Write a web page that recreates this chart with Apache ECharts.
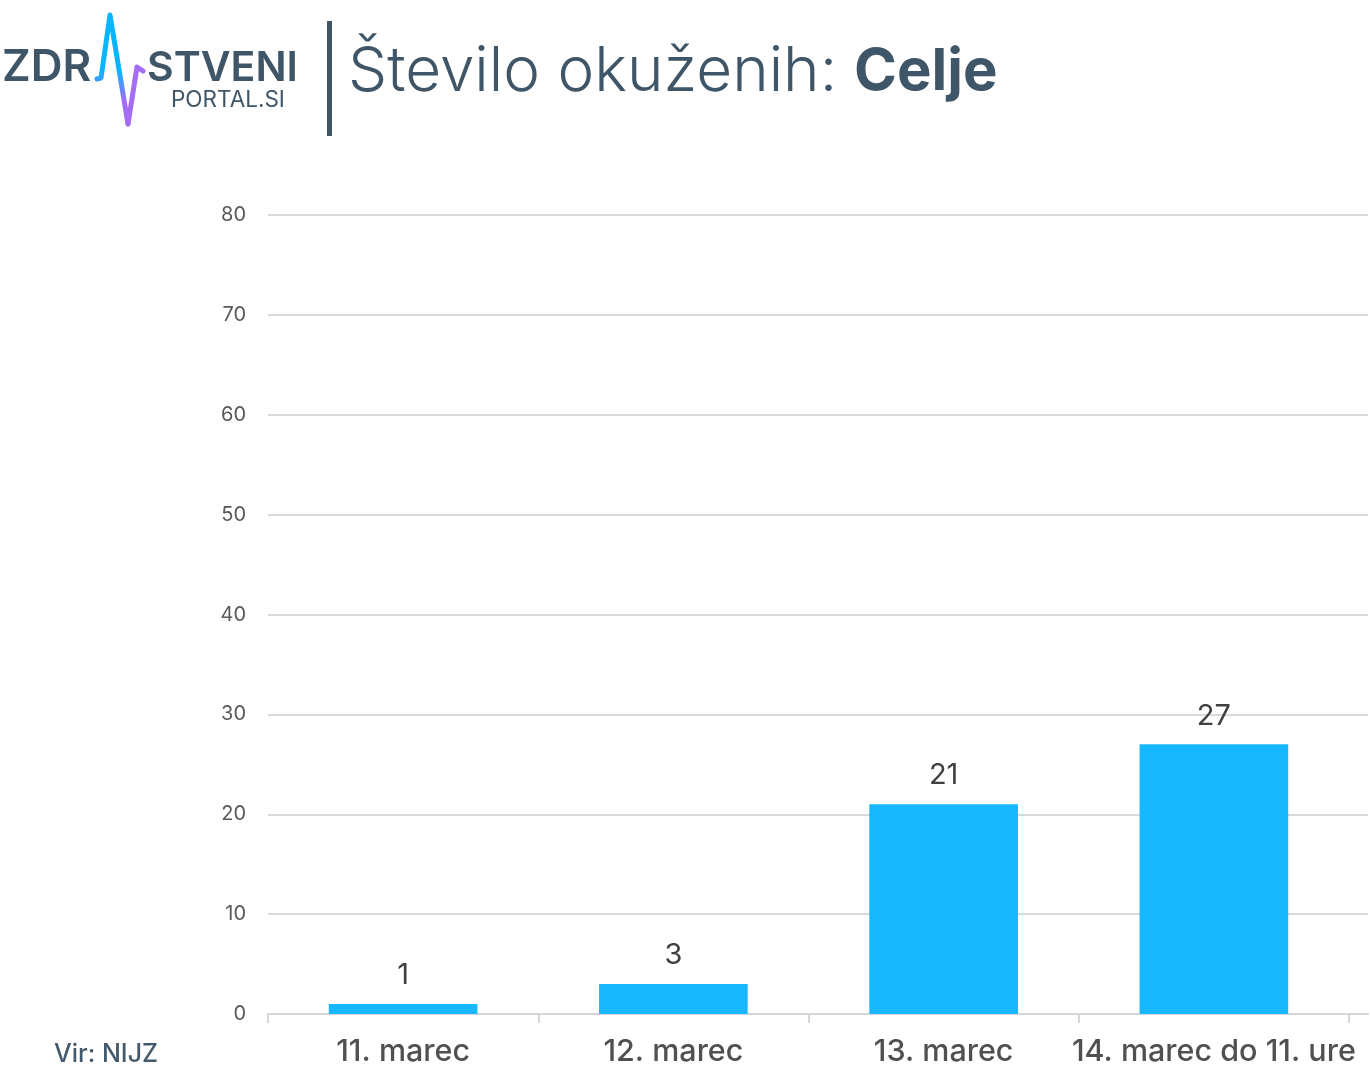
<!DOCTYPE html>
<html><head><meta charset="utf-8">
<style>html,body{margin:0;padding:0;background:#fff}#c{width:1370px;height:1080px}</style>
<script src="https://cdn.jsdelivr.net/npm/echarts@6/dist/echarts.min.js"></script>
</head><body><div id="c"></div>
<script>
const categories = ['11. marec','12. marec','13. marec','14. marec do 11. ure'];
const values = [1,3,21,27];
const titleLight = 'Število okuženih:';
const titleBold = 'Celje';
const source = 'Vir: NIJZ';
const F = 'Inter, Lato, sans-serif';
const dark = '#3f5568';
const axisGrey = '#d6d6d6';
const chart = echarts.init(document.getElementById('c'),null,{renderer:'canvas'});
chart.setOption({
  animation:false,
  backgroundColor:'#fff',
  grid:[
    {left:268,right:21,top:215,bottom:66},
    {left:268,right:2,top:215,bottom:66}
  ],
  xAxis:[
    {type:'category',gridIndex:0,data:categories,
     axisLine:{lineStyle:{color:axisGrey,width:2}},
     axisTick:{show:true,length:9,lineStyle:{color:axisGrey,width:2}},
     axisLabel:{color:'#505050',fontFamily:F,fontWeight:500,fontSize:30.5,margin:22,interval:0}},
    {type:'category',gridIndex:1,data:categories,
     axisLine:{show:true,lineStyle:{color:axisGrey,width:2}},
     axisTick:{show:false},axisLabel:{show:false}}
  ],
  yAxis:[
    {type:'value',gridIndex:0,min:0,max:80,interval:10,
     axisLine:{show:false},axisTick:{show:false},splitLine:{show:false},
     axisLabel:{color:'#595959',fontFamily:F,fontSize:20,margin:22,padding:[4,0,0,0]}},
    {type:'value',gridIndex:1,min:0,max:80,interval:10,
     axisLine:{show:false},axisTick:{show:false},axisLabel:{show:false},
     splitLine:{lineStyle:{color:'#d9d9d9',width:2}}}
  ],
  series:[{type:'bar',xAxisIndex:0,yAxisIndex:0,data:values,barWidth:'55%',itemStyle:{color:'#17b8ff'},
    label:{show:true,position:'top',distance:14,color:'#404040',fontFamily:F,fontSize:29}}],
  graphic:[
    {type:'rect',shape:{x:327,y:21,width:5,height:115},style:{fill:dark}},
    {type:'text',x:348,y:41,style:{text:titleLight,font:'300 62px '+F,fill:dark}},
    {type:'text',x:854,y:44,style:{text:titleBold,font:'700 58px '+F,fill:dark}},
    {type:'text',x:2,y:46,style:{text:'ZDR',font:'600 44px '+F,fill:dark}},
    {type:'text',x:147,y:48,style:{text:'STVENI',font:'600 41px '+F,fill:dark}},
    {type:'text',x:171,y:89,style:{text:'PORTAL.SI',font:'400 22.5px '+F,fill:dark}},
    {type:'polyline',shape:{points:[[128,124],[137,67],[143,71]]},
     style:{lineWidth:5,fill:'none',lineCap:'round',lineJoin:'round',stroke:'#a56cf5'}},
    {type:'polyline',shape:{points:[[97,79],[101,78],[110,15],[128,124]]},
     style:{lineWidth:5,fill:'none',lineCap:'round',lineJoin:'round',
       stroke:{type:'linear',x:0,y:0,x2:0,y2:1,colorStops:[{offset:0,color:'#05b6ff'},{offset:0.5,color:'#05b6ff'},{offset:0.78,color:'#a56cf5'},{offset:1,color:'#a56cf5'}]}}},
    {type:'text',x:54,y:1042,style:{text:source,font:'500 25px '+F,fill:'#44596b'}}
  ]
});
</script></body></html>
